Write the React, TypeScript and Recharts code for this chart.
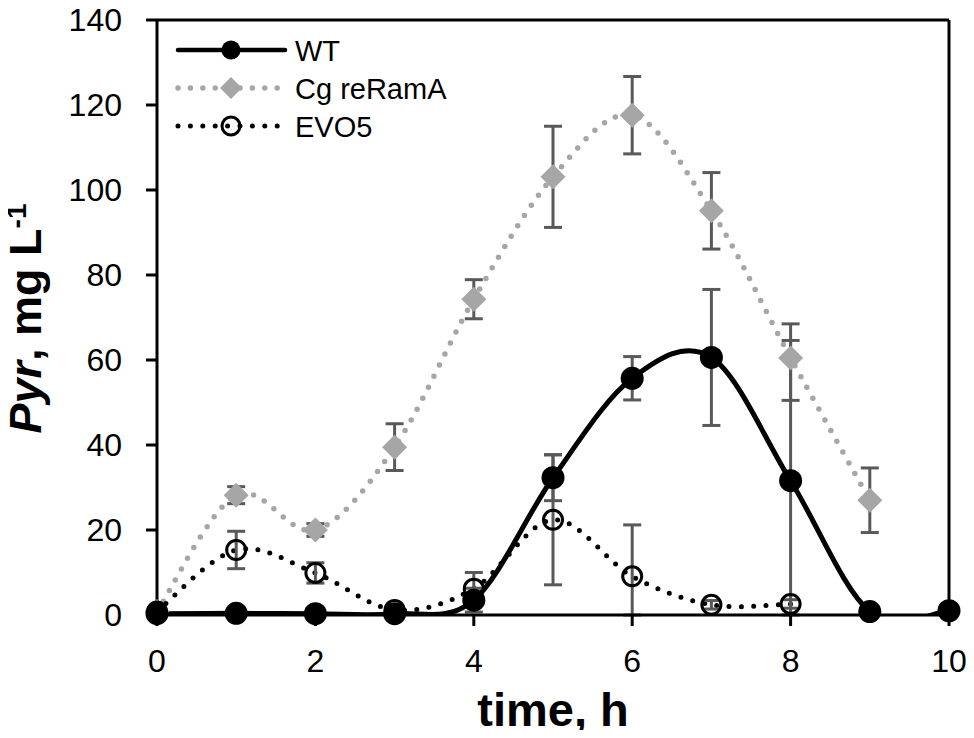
import React from 'react';
import { LineChart, Line, XAxis, YAxis, ErrorBar, ReferenceLine, Legend } from 'recharts';

// ---- data ----
const time = [0, 1, 2, 3, 4, 5, 6, 7, 8, 9, 10];
const wt = [0.3, 0.4, 0.3, 0.3, 3.5, 32.3, 55.7, 60.6, 31.6, 0.8, 1.0];
const wtErr: any[] = [0, 0.3, 0.3, 0.3, 2.8, 5.4, 5.1, 16, [31.6, 33], 0.3, 0.3];
const cg = [0.8, 28.2, 20.0, 39.5, 74.3, 103.1, 117.6, 95.1, 60.5, 27.0, null];
const cgErr: any[] = [0.5, 2, 1.5, 5.5, 4.6, 11.9, 9.1, 9, [10, 8], 7.6, null];
const evo = [0.8, 15.3, 9.9, 1.2, 6.2, 22.4, 9.1, 2.4, 2.6, null, null];
const evoErr: any[] = [0.5, 4.4, 2.4, 0.5, 3.8, 15.3, [9.1, 12.1], 1, 1, null, null];

const seriesNames = ['WT', 'Cg reRamA', 'EVO5'];
const xTicks = [0, 2, 4, 6, 8, 10];
const yTicks = [0, 20, 40, 60, 80, 100, 120, 140];

const rows = time.map((t, i) => ({
  t,
  wt: wt[i],
  wtErr: wtErr[i],
  cg: cg[i],
  cgErr: cgErr[i],
  evo: evo[i],
  evoErr: evoErr[i],
}));

const FONT = '"Liberation Sans", Arial, sans-serif';
const CG_GRAY = '#A6A6A6';
const ERR_GRAY = '#595959';

// Excel-like smoothed line (Catmull-Rom as cubic Bezier)
function excelSmooth(context: any) {
  let pts: number[][] = [];
  return {
    areaStart() {},
    areaEnd() {},
    lineStart() {
      pts = [];
    },
    point(x: number, y: number) {
      pts.push([+x, +y]);
    },
    lineEnd() {
      const n = pts.length;
      if (n === 0) return;
      context.moveTo(pts[0][0], pts[0][1]);
      if (n === 1) {
        context.lineTo(pts[0][0], pts[0][1]);
        return;
      }
      for (let i = 0; i < n - 1; i++) {
        const p0 = pts[i - 1] || pts[i];
        const p1 = pts[i];
        const p2 = pts[i + 1];
        const p3 = pts[i + 2] || pts[i + 1];
        context.bezierCurveTo(
          p1[0] + (p2[0] - p0[0]) / 6,
          p1[1] + (p2[1] - p0[1]) / 6,
          p2[0] - (p3[0] - p1[0]) / 6,
          p2[1] - (p3[1] - p1[1]) / 6,
          p2[0],
          p2[1]
        );
      }
    },
  };
}

const WtDot = (p: any) => {
  if (p.cx == null || p.cy == null || p.value == null) return <g key={`w${p.index}`} />;
  return <circle key={`w${p.index}`} cx={p.cx} cy={p.cy} r={11.5} fill="#000" />;
};
const CgDot = (p: any) => {
  if (p.cx == null || p.cy == null || p.value == null) return <g key={`c${p.index}`} />;
  const h = 12.5;
  const pts = `${p.cx},${p.cy - h} ${p.cx + h},${p.cy} ${p.cx},${p.cy + h} ${p.cx - h},${p.cy}`;
  return <polygon key={`c${p.index}`} points={pts} fill={CG_GRAY} />;
};
const EvoDot = (p: any) => {
  if (p.cx == null || p.cy == null || p.value == null) return <g key={`e${p.index}`} />;
  return <circle key={`e${p.index}`} cx={p.cx} cy={p.cy} r={9.5} fill="none" stroke="#000" strokeWidth={3} />;
};

const LegendBox = () => {
  const rowsY = [25, 63, 101];
  return (
    <svg width={320} height={130} style={{ overflow: 'visible', display: 'block' }}>
      {/* WT */}
      <line x1={8} x2={115} y1={rowsY[0]} y2={rowsY[0]} stroke="#000" strokeWidth={4.5} strokeLinecap="round" />
      <circle cx={61} cy={rowsY[0]} r={9.5} fill="#000" />
      {/* Cg */}
      <line x1={8} x2={115} y1={rowsY[1]} y2={rowsY[1]} stroke={CG_GRAY} strokeWidth={5.5} strokeDasharray="0 12.4" strokeLinecap="round" />
      <polygon points={`61,${rowsY[1] - 11} 72,${rowsY[1]} 61,${rowsY[1] + 11} 50,${rowsY[1]}`} fill={CG_GRAY} />
      {/* EVO5 */}
      <line x1={8} x2={115} y1={rowsY[2]} y2={rowsY[2]} stroke="#000" strokeWidth={5} strokeDasharray="0 12.4" strokeLinecap="round" />
      <circle cx={61} cy={rowsY[2]} r={9} fill="none" stroke="#000" strokeWidth={3} />
      {seriesNames.map((n, i) => (
        <text key={n} x={125} y={rowsY[i] + 10.5} fontSize={29} fontFamily={FONT} fill="#000">
          {n}
        </text>
      ))}
    </svg>
  );
};

const YLabel = (props: any) => {
  const vb = props.viewBox || { x: 0, y: 12, width: 149, height: 595 };
  const cx = vb.x + 33;
  const cy = vb.y + vb.height / 2 + 1;
  return (
    <text
      x={cx}
      y={cy}
      transform={`rotate(-90, ${cx}, ${cy})`}
      textAnchor="middle"
      fontFamily={FONT}
      fontWeight="bold"
      fontSize={45}
      fill="#000"
    >
      <tspan fontStyle="italic">Pyr</tspan>
      <tspan>, mg L</tspan>
      <tspan dy={-15} fontSize={28}>-1</tspan>
    </text>
  );
};

export default function App() {
  return (
    <div style={{ width: 958, height: 722 }}>
      <LineChart width={958} height={722} data={rows} margin={{ top: 12, right: 17, bottom: 0, left: 0 }}>
        <XAxis
          dataKey="t"
          type="number"
          domain={[0, 10]}
          ticks={xTicks}
          interval={0}
          height={115}
          tickSize={11}
          tickMargin={23}
          axisLine={{ stroke: '#000', strokeWidth: 3 }}
          tickLine={{ stroke: '#000', strokeWidth: 3 }}
          tick={{ fill: '#000', fontSize: 32, fontFamily: FONT }}
          label={{
            value: 'time, h',
            position: 'insideBottom',
            offset: 4,
            style: { fontSize: 47, fontWeight: 'bold', fontFamily: FONT, fill: '#000' },
          }}
        />
        <YAxis
          yAxisId="main"
          type="number"
          domain={[0, 140]}
          ticks={yTicks}
          interval={0}
          width={149}
          tickSize={11}
          tickMargin={24}
          axisLine={{ stroke: '#000', strokeWidth: 3 }}
          tickLine={{ stroke: '#000', strokeWidth: 3 }}
          tick={{ fill: '#000', fontSize: 32, fontFamily: FONT }}
          label={{ content: YLabel }}
        />
        <YAxis
          yAxisId="clip"
          orientation="right"
          hide
          width={0}
          type="number"
          domain={[0, 140]}
          allowDataOverflow
        />

        <ReferenceLine yAxisId="main" y={140} stroke="#000" strokeWidth={3} />
        <ReferenceLine yAxisId="main" x={10} stroke="#000" strokeWidth={3} />

        {/* smoothed curves, clipped to plot area */}
        <Line
          yAxisId="clip"
          dataKey="cg"
          type={excelSmooth as any}
          stroke={CG_GRAY}
          strokeWidth={5.5}
          strokeDasharray="0 12.3"
          strokeLinecap="round"
          dot={false}
          activeDot={false}
          legendType="none"
          isAnimationActive={false}
        />
        <Line
          yAxisId="clip"
          dataKey="evo"
          type={excelSmooth as any}
          stroke="#000"
          strokeWidth={5}
          strokeDasharray="0 12.3"
          strokeLinecap="round"
          dot={false}
          activeDot={false}
          legendType="none"
          isAnimationActive={false}
        />
        <Line
          yAxisId="clip"
          dataKey="wt"
          type={excelSmooth as any}
          stroke="#000"
          strokeWidth={5}
          dot={false}
          activeDot={false}
          legendType="none"
          isAnimationActive={false}
        />

        {/* markers + error bars */}
        <Line
          yAxisId="main"
          dataKey="cg"
          name={seriesNames[1]}
          stroke="none"
          strokeWidth={0}
          dot={CgDot}
          activeDot={false}
          isAnimationActive={false}
        >
          <ErrorBar dataKey="cgErr" width={9} strokeWidth={3} stroke={ERR_GRAY} direction="y" />
        </Line>
        <Line
          yAxisId="main"
          dataKey="evo"
          name={seriesNames[2]}
          stroke="none"
          strokeWidth={0}
          dot={EvoDot}
          activeDot={false}
          isAnimationActive={false}
        >
          <ErrorBar dataKey="evoErr" width={9} strokeWidth={3} stroke={ERR_GRAY} direction="y" />
        </Line>
        <Line
          yAxisId="main"
          dataKey="wt"
          name={seriesNames[0]}
          stroke="none"
          strokeWidth={0}
          dot={WtDot}
          activeDot={false}
          isAnimationActive={false}
        >
          <ErrorBar dataKey="wtErr" width={9} strokeWidth={3} stroke={ERR_GRAY} direction="y" />
        </Line>

        <Legend
          layout="vertical"
          align="center"
          verticalAlign="middle"
          content={() => <LegendBox />}
          wrapperStyle={{ left: 162, top: 17, width: 320, height: 130 }}
        />
      </LineChart>
    </div>
  );
}
